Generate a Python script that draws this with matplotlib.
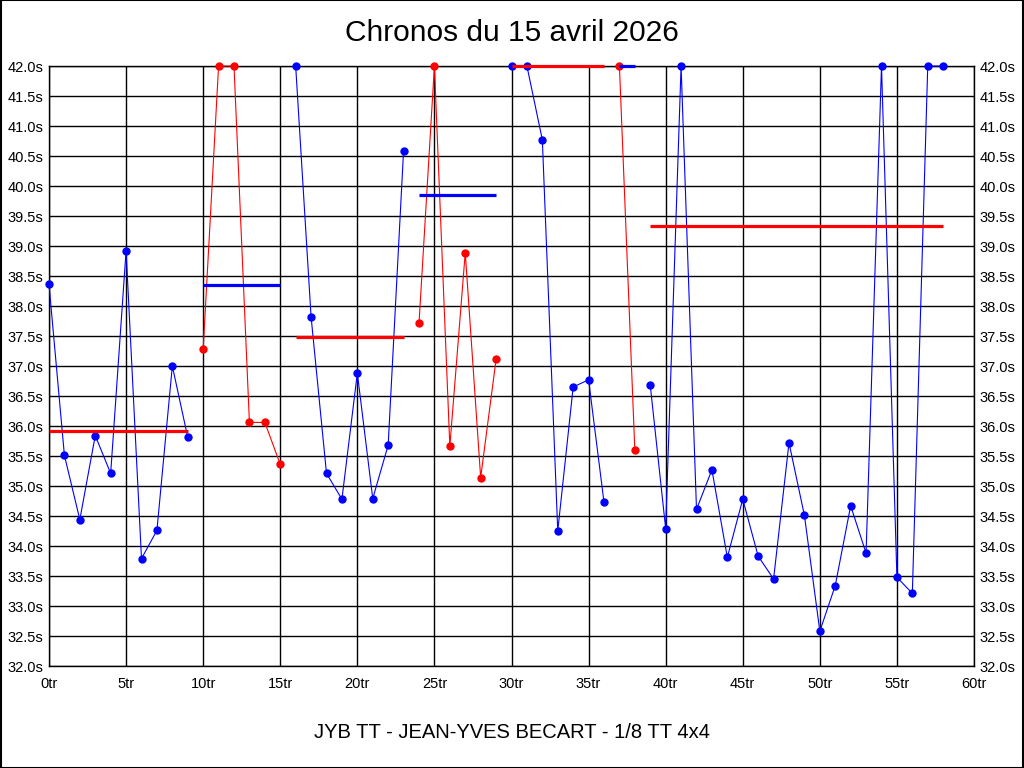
import numpy as np
import matplotlib
matplotlib.use("Agg")
import matplotlib.pyplot as plt

plt.rcParams["font.family"] = ["Liberation Sans", "DejaVu Sans"]

# lap times (s), values above 42 are shown clipped at the top of the scale
laps = [38.36, 35.51, 34.44, 35.84, 35.21, 38.92, 33.79, 34.26, 37.00, 35.81,
        37.28, 42.0, 42.0, 36.06, 36.06, 35.36,
        42.0, 37.82, 35.21, 34.78, 36.88, 34.79, 35.68, 40.59,
        37.71, 42.0, 35.66, 38.89, 35.14, 37.11,
        42.0, 42.0, 40.77, 34.25, 36.65, 36.77, 34.73,
        42.0, 35.60,
        36.68, 34.29, 42.0, 34.61, 35.27, 33.81, 34.78, 33.83, 33.45, 35.72,
        34.51, 32.58, 33.34, 34.67, 33.88, 42.0, 33.48, 33.21, 42.0, 42.0]

# relay segments: first lap, last lap, colour, mean time
seg_start = [0, 10, 16, 24, 30, 37, 39]
seg_end = [9, 15, 23, 29, 36, 38, 58]
seg_color = ["blue", "red", "blue", "red", "blue", "red", "blue"]
seg_mean = [35.91, 38.35, 37.48, 39.85, 42.0, 42.0, 39.33]

title = "Chronos du 15 avril 2026"
footer = "JYB TT - JEAN-YVES BECART - 1/8 TT 4x4"

fig = plt.figure(figsize=(10.24, 7.68), dpi=100)
ax = fig.add_axes([49 / 1024, 1 - 666 / 768, 925 / 1024, 600 / 768])

laps = np.array(laps)
x = np.arange(len(laps))
for s, e, c, m in zip(seg_start, seg_end, seg_color, seg_mean):
    xs = x[s:e + 1]
    ys = np.minimum(laps[s:e + 1], 42.0)
    ax.plot(xs, ys, color=c, lw=0.8, marker="o", ms=5, clip_on=False, zorder=3)
    other = "red" if c == "blue" else "blue"
    ax.plot([s, e], [m, m], color=other, lw=2.3, solid_capstyle="butt",
            clip_on=False, zorder=4)

ax.set_xlim(0, 60)
ax.set_ylim(32, 42)
ax.set_xticks(np.arange(0, 61, 5))
ax.set_xticklabels([f"{v}tr" for v in range(0, 61, 5)])
yt = np.arange(32, 42.01, 0.5)
ax.set_yticks(yt)
ax.set_yticklabels([f"{v:.1f}s" for v in yt])
ax.grid(True, color="black", lw=1.0)
ax.set_axisbelow(True)
ax.tick_params(length=0, labelsize=10.5, labelright=True, pad=4)
ax.tick_params(axis="x", pad=8)
for sp in ax.spines.values():
    sp.set_color("black")
    sp.set_linewidth(1.0)

fig.text(0.5, 1 - 33 / 768, title, ha="center", va="center", fontsize=21.5)
fig.text(0.5, 1 - 733 / 768, footer, ha="center", va="center", fontsize=14.5)

border = plt.Rectangle((0.0005, 0.0005), 0.999, 0.999, transform=fig.transFigure,
                       fill=False, edgecolor="black", lw=1.5)
fig.patches.append(border)

plt.savefig("out.png", dpi=100)
